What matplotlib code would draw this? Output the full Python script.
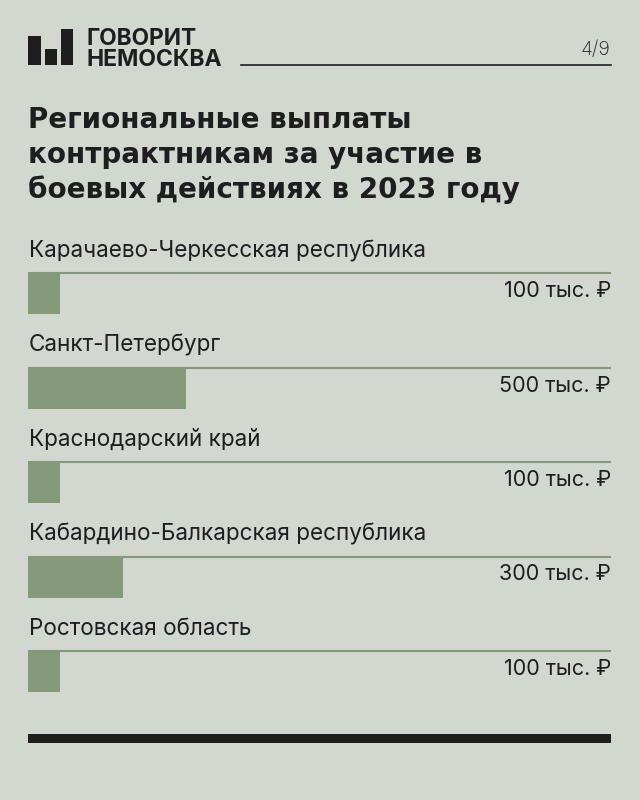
import matplotlib.pyplot as plt
from matplotlib.patches import Rectangle

# data
regions = ["Карачаево-Черкесская республика", "Санкт-Петербург", "Краснодарский край",
           "Кабардино-Балкарская республика", "Ростовская область"]
payments = [100, 500, 100, 300, 100]  # тыс. руб.
value_labels = ["100 тыс. ₽", "500 тыс. ₽", "100 тыс. ₽", "300 тыс. ₽", "100 тыс. ₽"]
title_lines = ["Региональные выплаты", "контрактникам за участие в", "боевых действиях в 2023 году"]
page = "4/9"

bg = "#d2d7cf"
green = "#84997a"
ink = "#1e1e1e"

plt.rcParams["font.family"] = ["Inter", "DejaVu Sans"]

W, H = 640, 800
fig = plt.figure(figsize=(W / 100, H / 100), dpi=100, facecolor=bg)


def fx(x):
    return x / W


def fy(y):
    return 1 - y / H


# logo
for x0, y0, x1 in [(28, 36, 41), (45, 49, 57), (61, 29, 73)]:
    fig.patches.append(Rectangle((fx(x0), fy(65)), fx(x1 - x0), (65 - y0) / H,
                                 transform=fig.transFigure, color=ink, lw=0))
fig.text(fx(87), fy(45), "ГОВОРИТ", fontsize=16.3, fontweight="bold", color=ink, va="baseline")
fig.text(fx(87), fy(66), "НЕМОСКВА", fontsize=16.5, fontweight="bold", color=ink, va="baseline")
fig.text(fx(611), fy(55), page, fontsize=14, color=ink, ha="right", va="baseline", fontweight="light")
fig.add_artist(plt.Line2D([fx(241), fx(611)], [fy(65), fy(65)], color=ink, lw=1.2))

# title
for i, line in enumerate(title_lines):
    fig.text(fx(28), fy(128 + i * 35), line, fontsize=20, fontweight="bold", color=ink,
             va="baseline", family="DejaVu Sans")

# bars axis: pixel-like y units
top, bottom = 230, 700
ax = fig.add_axes([fx(28), fy(bottom), fx(611 - 28), (bottom - top) / H])
ax.set_facecolor("none")
ax.set_xlim(0, 1843)
ax.set_ylim(bottom, top)
ax.axis("off")

step = 94.5
for i, (name, val, lab) in enumerate(zip(regions, payments, value_labels)):
    y_line = 273 + i * step
    ax.barh(y_line, val, height=41, align="edge", color=green, lw=0)
    ax.plot([0, 1843], [y_line, y_line], color=green, lw=1.5, solid_capstyle="butt")
    ax.text(2, y_line - 16, name, fontsize=16.2, color=ink, va="baseline", ha="left")
    ax.text(1843, y_line + 24, lab, fontsize=15.5, color=ink, va="baseline", ha="right")

# bottom rule
fig.patches.append(Rectangle((fx(28), fy(743)), fx(611 - 28), 9 / H,
                             transform=fig.transFigure, color=ink, lw=0))

fig.savefig("out.png", dpi=100, facecolor=bg)
